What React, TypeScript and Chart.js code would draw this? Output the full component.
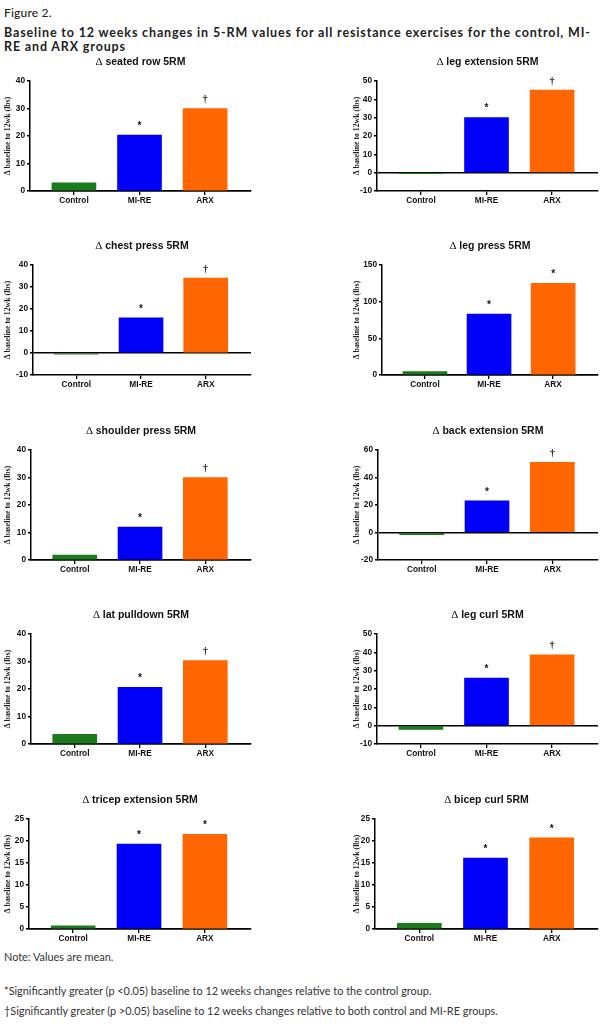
import React, { useEffect, useRef } from "react";
import { Chart, registerables } from "chart.js";

Chart.register(...registerables);

// ---------- data ----------
const groups = ["Control", "MI-RE", "ARX"];

const exerciseNames = [
  "seated row 5RM",
  "leg extension 5RM",
  "chest press 5RM",
  "leg press 5RM",
  "shoulder press 5RM",
  "back extension 5RM",
  "lat pulldown 5RM",
  "leg curl 5RM",
  "tricep extension 5RM",
  "bicep curl 5RM",
];

const seatedRow = [3, 20.3, 30];
const legExtension = [-0.5, 30, 45];
const chestPress = [-0.5, 16, 34];
const legPress = [4.5, 83, 125];
const shoulderPress = [1.8, 12, 30];
const backExtension = [-1.5, 23, 51];
const latPulldown = [3.5, 20.6, 30.3];
const legCurl = [-2, 26, 38.7];
const tricepExtension = [0.7, 19.3, 21.5];
const bicepCurl = [1.3, 16.1, 20.7];

const seatedRowMarks = ["", "*", "†"];
const legExtensionMarks = ["", "*", "†"];
const chestPressMarks = ["", "*", "†"];
const legPressMarks = ["", "*", "*"];
const shoulderPressMarks = ["", "*", "†"];
const backExtensionMarks = ["", "*", "†"];
const latPulldownMarks = ["", "*", "†"];
const legCurlMarks = ["", "*", "†"];
const tricepExtensionMarks = ["", "*", "*"];
const bicepCurlMarks = ["", "*", "*"];

// y ticks: [min, max, step]
const seatedRowTicks = [0, 40, 10];
const legExtensionTicks = [-10, 50, 10];
const chestPressTicks = [-10, 40, 10];
const legPressTicks = [0, 150, 50];
const shoulderPressTicks = [0, 40, 10];
const backExtensionTicks = [-20, 60, 20];
const latPulldownTicks = [0, 40, 10];
const legCurlTicks = [-10, 50, 10];
const tricepExtensionTicks = [0, 25, 5];
const bicepCurlTicks = [0, 25, 5];

const yAxisTitle = "Δ baseline to 12wk (lbs)";
const figureLabel = "Figure 2.";
const captionLine1 =
  "Baseline to 12 weeks changes in 5-RM values for all resistance exercises for the control, MI-";
const captionLine2 = "RE and ARX groups";
const noteText = "Note: Values are mean.";
const footnote1 =
  "*Significantly greater (p <0.05) baseline to 12 weeks changes relative to the control group.";
const footnote2 =
  "†Significantly greater (p >0.05) baseline to 12 weeks changes relative to both control and MI-RE groups.";

const seriesList = [
  seatedRow, legExtension, chestPress, legPress, shoulderPress,
  backExtension, latPulldown, legCurl, tricepExtension, bicepCurl,
];
const marksList = [
  seatedRowMarks, legExtensionMarks, chestPressMarks, legPressMarks, shoulderPressMarks,
  backExtensionMarks, latPulldownMarks, legCurlMarks, tricepExtensionMarks, bicepCurlMarks,
];
const ticksList = [
  seatedRowTicks, legExtensionTicks, chestPressTicks, legPressTicks, shoulderPressTicks,
  backExtensionTicks, latPulldownTicks, legCurlTicks, tricepExtensionTicks, bicepCurlTicks,
];

// ---------- styles / layout ----------
const barColors = ["#1b7a1b", "#0000f8", "#ff6500"];
const rowTops = [50, 234, 419, 603, 788];
const axisXs = [30, 377, 33, 382, 31, 378, 31, 377, 29, 375];
const CANVAS_H = 161;
const SANS = '"Liberation Sans", Arial, sans-serif';
const SERIF = '"Liberation Serif", "Times New Roman", serif';

const panelTitlePlugin = {
  id: "panelTitle",
  afterDraw(chart: any, _args: any, opts: any) {
    const { ctx, chartArea } = chart;
    const cx = (chartArea.left + chartArea.right) / 2;
    const y = 12.5;
    ctx.save();
    const sym = "Δ ";
    const symFont = `11px ${SERIF}`;
    const txtFont = `bold 10.5px ${SANS}`;
    ctx.font = symFont;
    const w1 = ctx.measureText(sym).width;
    ctx.font = txtFont;
    const w2 = ctx.measureText(opts.text).width;
    const x0 = cx - (w1 + w2) / 2;
    ctx.fillStyle = "#111";
    ctx.textBaseline = "middle";
    ctx.textAlign = "left";
    ctx.font = symFont;
    ctx.fillText(sym, x0, y);
    ctx.font = txtFont;
    ctx.fillText(opts.text, x0 + w1, y);
    ctx.restore();
  },
};

const sigMarksPlugin = {
  id: "sigMarks",
  afterDatasetsDraw(chart: any, _args: any, opts: any) {
    const { ctx } = chart;
    const meta = chart.getDatasetMeta(0);
    ctx.save();
    ctx.fillStyle = "#111";
    ctx.textAlign = "center";
    ctx.textBaseline = "middle";
    meta.data.forEach((el: any, i: number) => {
      const m = opts.marks[i];
      if (!m) return;
      ctx.font = m === "*" ? `bold 10px ${SANS}` : `bold 9.5px ${SERIF}`;
      ctx.fillText(m, el.x, el.y - 9);
    });
    ctx.restore();
  },
};

function Panel({ index }: { index: number }) {
  const ref = useRef<HTMLCanvasElement>(null);
  const col = index % 2;
  const row = Math.floor(index / 2);
  const left = col === 0 ? 0 : 300;
  const width = col === 0 ? 300 : 302;
  const padLeft = col === 0 ? 0 : 49;
  const plotRight = col === 0 ? 251 : 598;
  const padRight = left + width - plotRight;
  const yWidth = axisXs[index] - left - padLeft;

  useEffect(() => {
    const values = seriesList[index];
    const [ymin, ymax, ystep] = ticksList[index];
    const chart = new Chart(ref.current as HTMLCanvasElement, {
      type: "bar",
      data: {
        datasets: [
          {
            data: values.map((v, i) => ({ x: i, y: v })),
            backgroundColor: barColors,
            borderWidth: 0,
            barThickness: 44,
          } as any,
        ],
      },
      plugins: [panelTitlePlugin, sigMarksPlugin],
      options: {
        animation: false,
        responsive: false,
        maintainAspectRatio: false,
        events: [],
        layout: { padding: { left: padLeft, right: padRight, top: 31, bottom: 4 } },
        plugins: {
          legend: { display: false },
          tooltip: { enabled: false },
          panelTitle: { text: exerciseNames[index] },
          sigMarks: { marks: marksList[index] },
        } as any,
        scales: {
          x: {
            type: "linear",
            offset: false,
            bounds: "data",
            min: -0.67,
            max: 2.7,
            afterBuildTicks: (s: any) => {
              s.ticks = groups.map((_, i) => ({ value: i }));
            },
            afterFit: (s: any) => {
              s.height = 16;
            },
            ticks: {
              callback: (v: any) => groups[v] ?? "",
              font: { family: SANS, size: 8.3, weight: "bold" },
              color: "#111",
              padding: 1,
              autoSkip: false,
              maxRotation: 0,
            },
            grid: {
              offset: false,
              drawOnChartArea: false,
              drawTicks: true,
              tickLength: 4,
              color: "#000",
              lineWidth: 1.3,
            },
            border: { display: true, color: "#000", width: 1.5 },
          },
          y: {
            type: "linear",
            min: ymin,
            max: ymax,
            afterFit: (s: any) => {
              s.width = yWidth;
            },
            ticks: {
              stepSize: ystep,
              font: { family: SANS, size: 8.3, weight: "bold" },
              color: "#111",
              padding: 2,
            },
            grid: {
              color: (c: any) => (c.tick && c.tick.value === 0 ? "#000" : "rgba(0,0,0,0)"),
              tickColor: "#000",
              lineWidth: 1.5,
              tickLength: 3,
            },
            border: { display: true, color: "#000", width: 1.5 },
            title: {
              display: true,
              text: yAxisTitle,
              font: { family: SERIF, size: 7.8, weight: "bold" },
              color: "#222",
              padding: { top: 3.5, bottom: 0 },
            },
          },
        },
      } as any,
    });
    return () => chart.destroy();
  }, [index]);

  return (
    <div style={{ position: "absolute", left, top: rowTops[row], width, height: CANVAS_H }}>
      <canvas ref={ref} width={width} height={CANVAS_H} style={{ width, height: CANVAS_H, display: "block" }} />
    </div>
  );
}

export default function App() {
  const textFont = 'Lato, "Open Sans", "Noto Sans", sans-serif';
  return (
    <div
      style={{
        position: "absolute",
        left: 0,
        top: 0,
        width: 602,
        height: 1024,
        background: "#fff",
        overflow: "hidden",
        fontFamily: textFont,
        color: "#222",
      }}
    >
      <div style={{ position: "absolute", left: 4, top: 6, fontSize: 12, lineHeight: "14px", fontWeight: 500, whiteSpace: "nowrap", letterSpacing: 0.2 }}>
        {figureLabel}
      </div>
      <div style={{ position: "absolute", left: 4, top: 26, fontSize: 12.5, lineHeight: "13.5px", fontWeight: 700, whiteSpace: "nowrap", letterSpacing: 0.85 }}>
        <div>{captionLine1}</div>
        <div>{captionLine2}</div>
      </div>
      {seriesList.map((_, i) => (
        <Panel key={i} index={i} />
      ))}
      <div style={{ position: "absolute", left: 4, top: 950, fontSize: 10.9, lineHeight: "14px", color: "#333", whiteSpace: "nowrap" }}>
        {noteText}
      </div>
      <div style={{ position: "absolute", left: 4, top: 984, fontSize: 10.9, lineHeight: "14px", color: "#333", whiteSpace: "nowrap" }}>
        {footnote1}
      </div>
      <div style={{ position: "absolute", left: 4, top: 1004, fontSize: 10.9, lineHeight: "14px", color: "#333", whiteSpace: "nowrap" }}>
        {footnote2}
      </div>
    </div>
  );
}
